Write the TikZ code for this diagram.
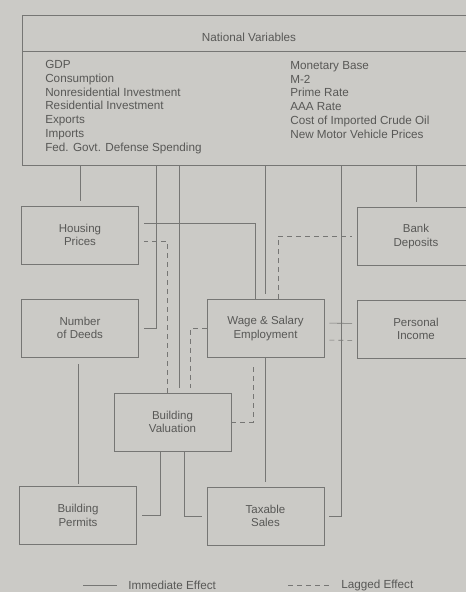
\documentclass[tikz,border=0pt]{standalone}
\usepackage{fontspec}
\setmainfont{Liberation Sans}
\usetikzlibrary{positioning}
\definecolor{paper}{RGB}{203,202,198}
\definecolor{ink}{RGB}{118,118,116}
\definecolor{txt}{RGB}{88,88,86}
\tikzset{
	box/.style={draw=ink,rectangle,align=center,minimum width=117pt,minimum height=58pt,text=txt,font=\fontsize{11.5}{13.6}\selectfont},
	imm/.style={draw=ink,shorten >=5pt},
	lag/.style={draw=ink,dash pattern=on 5pt off 4pt,shorten >=5pt},
	lbl/.style={text=txt,inner sep=0pt,align=left,font=\fontsize{11.7}{13.8}\selectfont}
}

\begin{document}
\begin{tikzpicture}[x=1pt,y=-1pt,line width=0.6pt]
            \fill[paper] (0,0) rectangle (466,592);
            \useasboundingbox (0,0) rectangle (466,592);
            \clip (0,0) rectangle (466,592);
            % national variables
            \node[box,minimum width=454pt,minimum height=150pt,anchor=north west] (nat) at (22,15) {};
            \draw[ink] (22,51) -- (476,51);
            \node[lbl] (head) at (249,37) {National Variables};
            \node[lbl,anchor=north west] (lst1) at (45,60) {GDP\\Consumption\\Nonresidential Investment\\Residential Investment\\Exports\\Imports\\Fed. Govt. Defense Spending};
            \node[lbl,anchor=north west] (lst2) at (290,61) {Monetary Base\\M-2\\Prime Rate\\AAA Rate\\Cost of Imported Crude Oil\\New Motor Vehicle Prices};
            % local variables
            \node[box] (hous) at (80,235) {Housing\\Prices};
            \node[box] (deed) at (80,328) {Number\\of Deeds};
            \node[box] (perm) at (78,515.5) {Building\\Permits};
            \node[box] (val) at (172.5,422) {Building\\Valuation};
            \node[box] (wage) at (265.5,328.5) {Wage \& Salary\\Employment};
            \node[box] (tax) at (265.5,516) {Taxable\\Sales};
            \node[box] (bank) at (416,236.5) {Bank\\Deposits};
            \node[box] (inc) at (416,329) {Personal\\Income};
            % lanes
            \coordinate (c1) at (156,0);
            \coordinate (c2) at (179,0);
            \coordinate (c3) at (341,0);
            \coordinate (c4) at (255,0);
            \coordinate (c5) at (167,0);
            \coordinate (c6) at (278,0);
            \coordinate (c7) at (190,0);
            \coordinate (c8) at (253,0);
            \coordinate (c9) at (160,0);
            \coordinate (c10) at (184,0);
            % immediate
            \draw[imm] (nat.south -| hous) -- (hous);
            \draw[imm] (nat.south -| c1) |- (deed);
            \draw[imm] (nat.south -| c2) -- (val.north -| c2);
            \draw[imm] (nat.south -| wage) -- (wage);
            \draw[imm] (nat.south -| c3) |- (tax);
            \draw[imm] (nat.south -| bank) -- (bank);
            \draw[imm] (wage.north -| c4) |- ([yshift=12pt]hous.east);
            \draw[imm] (wage) -- (tax);
            \draw[imm,shorten <=5pt] ([yshift=5.5pt]wage.east) -- ([yshift=5.5pt]inc.west);
            \draw[imm,shorten <=7pt,shorten >=2pt] (deed.south -| perm) -- (perm);
            \draw[imm] (val.south -| c9) |- (perm);
            \draw[imm] (val.south -| c10) |- (tax);
            % lagged
            \draw[lag] (val.north -| c5) |- ([yshift=-6pt]hous.east);
            \draw[lag] (wage.north -| c6) |- (bank);
            \draw[lag] (wage) -| (val.north -| c7);
            \draw[lag] (val) -| (wage.south -| c8);
            \draw[lag,shorten <=5pt] ([yshift=-11.5pt]wage.east) -- ([yshift=-11.5pt]inc.west);
            % legend
            \node[lbl,anchor=west] (leg1) at (128,585) {Immediate Effect};
            \node[lbl,anchor=west] (leg2) at (341,585) {Lagged Effect};
            \draw[imm,shorten >=11pt] ([xshift=-45pt]leg1.west) -- (leg1.west);
            \draw[lag,shorten >=11pt] ([xshift=-53pt]leg2.west) -- (leg2.west);
        \end{tikzpicture}
\end{document}
